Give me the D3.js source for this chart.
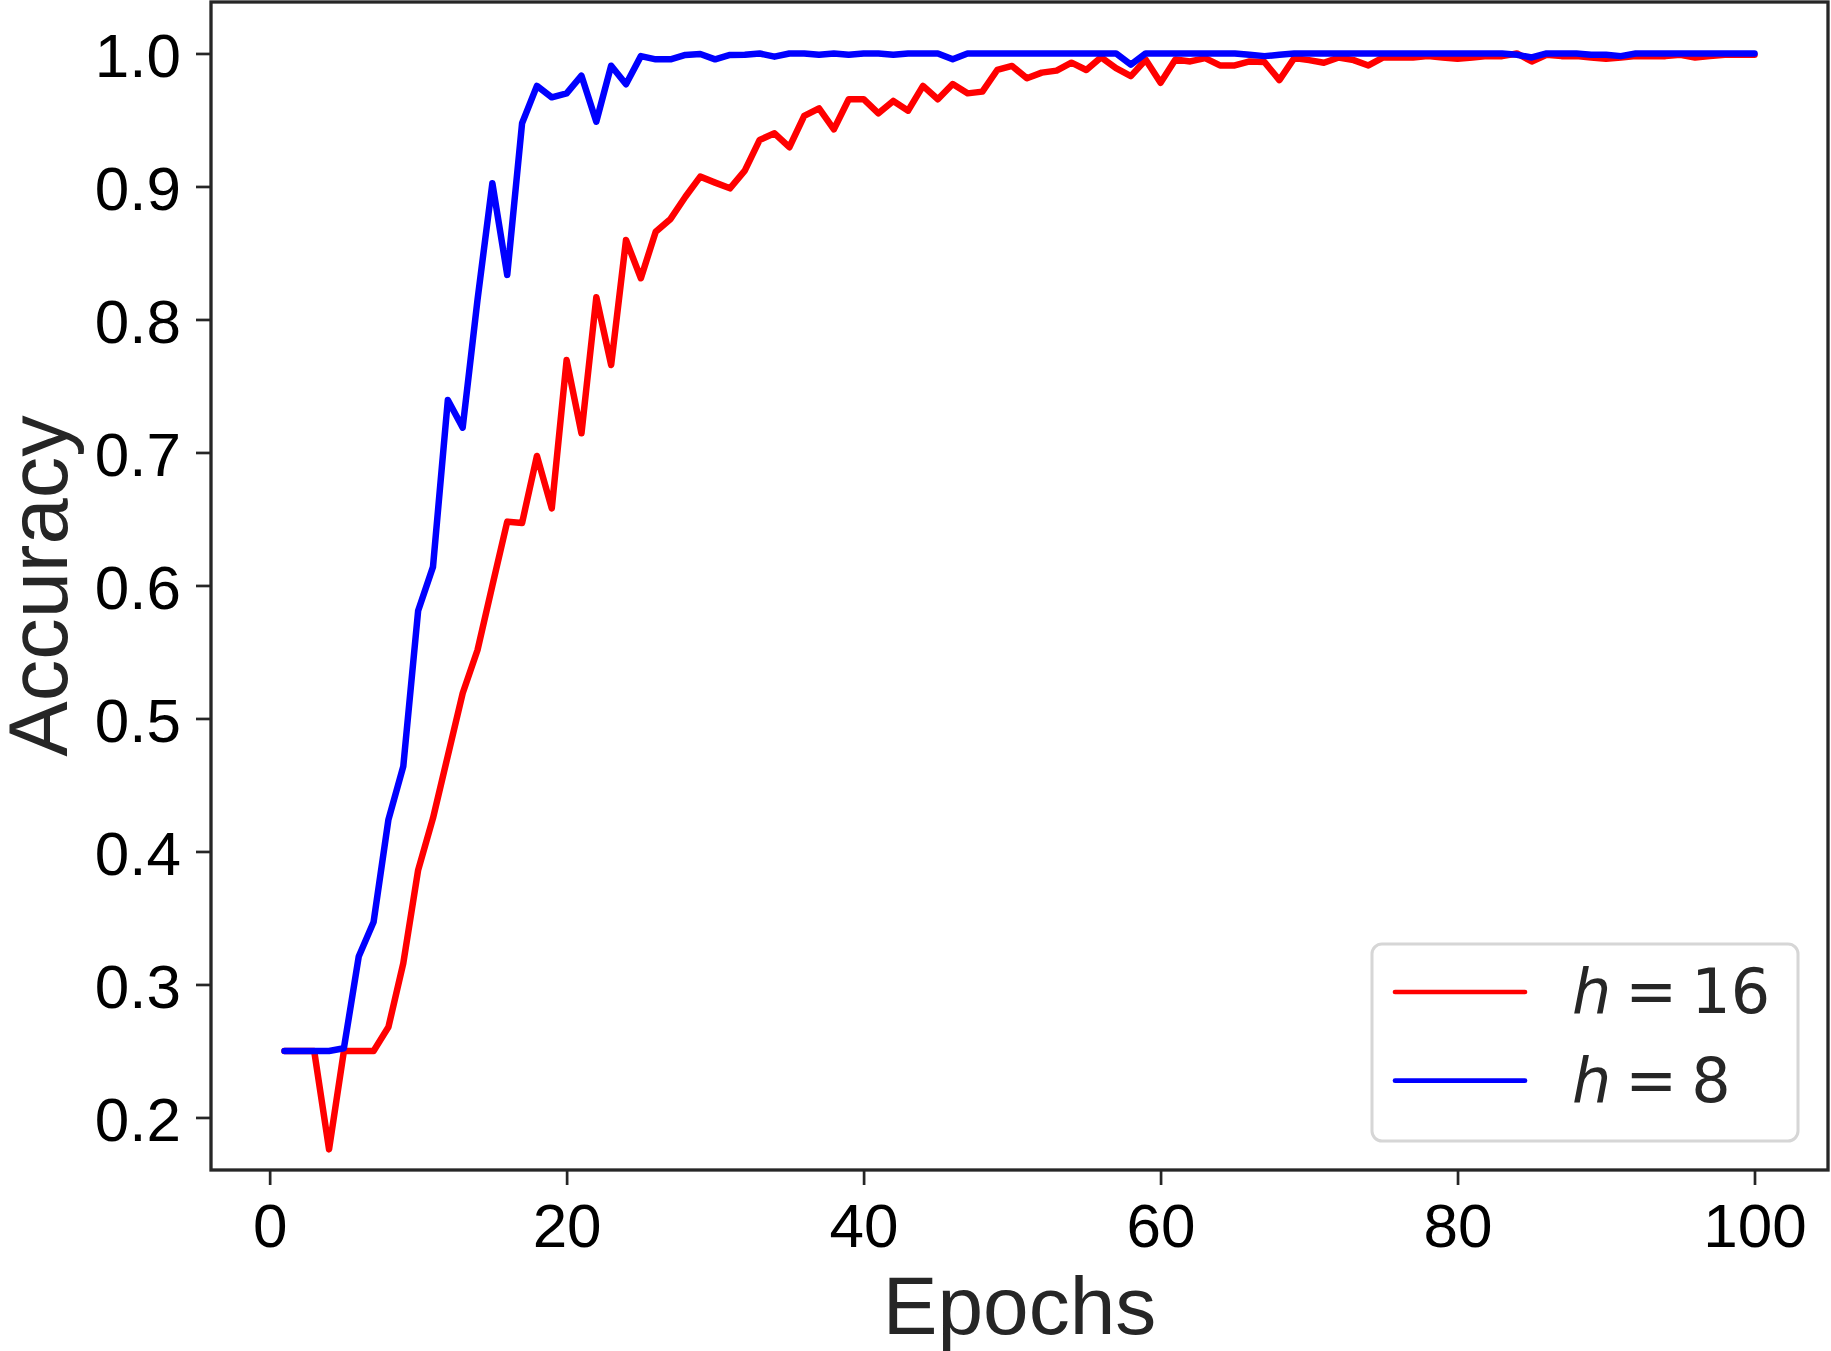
<!DOCTYPE html>
<html>
<head>
<meta charset="utf-8">
<script src="https://cdn.jsdelivr.net/npm/d3@7"></script>
<style>
  html, body { margin: 0; padding: 0; background: #ffffff; }
  svg { display: block; }
</style>
</head>
<body>
<svg id="chart" width="1831" height="1351"></svg>
<script>
// ---- data ----
const epochs = d3.range(1, 101);

const accH16 = [
  0.25, 0.25, 0.25, 0.176, 0.25, 0.25, 0.25, 0.268, 0.316, 0.386,
  0.425, 0.472, 0.519, 0.5515, 0.60, 0.648, 0.647, 0.6974, 0.658, 0.7695,
  0.7144, 0.8167, 0.7658, 0.8598, 0.831, 0.866, 0.8756, 0.8923, 0.9074, 0.9029,
  0.8986, 0.9119, 0.935, 0.94, 0.9295, 0.953, 0.9588, 0.943, 0.9656, 0.9656,
  0.955, 0.9643, 0.957, 0.9756, 0.9656, 0.977, 0.970, 0.9713, 0.9876, 0.9906,
  0.9813, 0.9856, 0.9871, 0.9931, 0.9876, 0.9971, 0.9889, 0.983, 0.9953, 0.978,
  0.9955, 0.994, 0.9965, 0.991, 0.991, 0.994, 0.9935, 0.980, 0.9965, 0.995,
  0.993, 0.997, 0.995, 0.991, 0.997, 0.997, 0.997, 0.998, 0.997, 0.996,
  0.997, 0.998, 0.998, 1.0, 0.994, 0.999, 0.998, 0.998, 0.997, 0.996,
  0.997, 0.998, 0.998, 0.998, 0.999, 0.997, 0.998, 0.999, 0.999, 0.999
];

const accH8 = [
  0.25, 0.25, 0.25, 0.25, 0.252, 0.321, 0.347, 0.424, 0.464, 0.581,
  0.614, 0.7395, 0.7187, 0.815, 0.9024, 0.8335, 0.9475, 0.9756, 0.967, 0.970,
  0.9833, 0.9487, 0.9908, 0.9768, 0.998, 0.9956, 0.9956, 0.9989, 0.9996, 0.9956,
  0.9989, 0.999, 1.0, 0.9976, 1.0, 1.0, 0.999, 1.0, 0.999, 1.0,
  1.0, 0.999, 1.0, 1.0, 1.0, 0.9956, 1.0, 1.0, 1.0, 1.0,
  1.0, 1.0, 1.0, 1.0, 1.0, 1.0, 1.0, 0.9916, 1.0, 1.0,
  1.0, 1.0, 1.0, 1.0, 1.0, 0.999, 0.998, 0.999, 1.0, 1.0,
  1.0, 1.0, 1.0, 1.0, 1.0, 1.0, 1.0, 1.0, 1.0, 1.0,
  1.0, 1.0, 1.0, 0.999, 0.997, 1.0, 1.0, 1.0, 0.999, 0.999,
  0.998, 1.0, 1.0, 1.0, 1.0, 1.0, 1.0, 1.0, 1.0, 1.0
];

const seriesNames = ["16", "8"];
const seriesColors = ["#ff0000", "#0000ff"];
const xTicks = [0, 20, 40, 60, 80, 100];
const yTicks = [0.2, 0.3, 0.4, 0.5, 0.6, 0.7, 0.8, 0.9, 1.0];
const xLabel = "Epochs";
const yLabel = "Accuracy";

// ---- layout ----
const svg = d3.select("#chart");
const L = 211, R = 1828, T = 2, B = 1170;

const x = d3.scaleLinear().domain([-3.95, 104.95]).range([L, R]);
const y = d3.scaleLinear().domain([0.1605, 1.0387]).range([B, T]);

const axisColor = "#262626";

// lines
const line = d3.line().x((d, i) => x(epochs[i])).y(d => y(d));
const series = [accH16, accH8];
series.forEach((s, k) => {
  svg.append("path")
    .datum(s)
    .attr("d", line)
    .attr("fill", "none")
    .attr("stroke", seriesColors[k])
    .attr("stroke-width", 6.5)
    .attr("stroke-linejoin", "round")
    .attr("stroke-linecap", "round");
});

// x axis
const gx = svg.append("g").attr("transform", `translate(0,${B})`)
  .call(d3.axisBottom(x).tickValues(xTicks).tickFormat(d3.format("d")).tickSizeOuter(0).tickSizeInner(15));
gx.select(".domain").remove();
gx.selectAll(".tick line").attr("stroke", axisColor).attr("stroke-width", 2.7);
gx.selectAll(".tick text")
  .attr("y", 77).attr("dy", 0)
  .attr("fill", "#000")
  .style("font-family", "'Liberation Sans', Arial, sans-serif")
  .style("font-size", "62px");

// y axis
const gy = svg.append("g").attr("transform", `translate(${L},0)`)
  .call(d3.axisLeft(y).tickValues(yTicks).tickFormat(d3.format(".1f")).tickSizeOuter(0).tickSizeInner(15));
gy.select(".domain").remove();
gy.selectAll(".tick line").attr("stroke", axisColor).attr("stroke-width", 2.7);
gy.selectAll(".tick text")
  .attr("x", -30).attr("dy", 23)
  .attr("fill", "#000")
  .style("font-family", "'Liberation Sans', Arial, sans-serif")
  .style("font-size", "62px");

// spines
svg.append("rect")
  .attr("x", L).attr("y", T).attr("width", R - L).attr("height", B - T)
  .attr("fill", "none").attr("stroke", axisColor).attr("stroke-width", 3.3);

// axis labels
svg.append("text")
  .attr("x", (L + R) / 2).attr("y", 1334)
  .attr("text-anchor", "middle")
  .attr("fill", axisColor)
  .style("font-family", "'Liberation Sans', Arial, sans-serif")
  .style("font-size", "82px")
  .text(xLabel);

svg.append("text")
  .attr("transform", `translate(67,${(T + B) / 2}) rotate(-90)`)
  .attr("text-anchor", "middle")
  .attr("fill", axisColor)
  .style("font-family", "'Liberation Sans', Arial, sans-serif")
  .style("font-size", "83px")
  .text(yLabel);

// legend
const lg = svg.append("g").attr("transform", "translate(1372,944)");
lg.append("rect")
  .attr("x", 0).attr("y", 0).attr("width", 426).attr("height", 197)
  .attr("rx", 10).attr("ry", 10)
  .attr("fill", "#ffffff").attr("fill-opacity", 0.8)
  .attr("stroke", "#d6d6d6").attr("stroke-width", 3);

seriesNames.forEach((name, k) => {
  const cy = 48 + k * 88.7;
  lg.append("line")
    .attr("x1", 23).attr("x2", 153).attr("y1", cy).attr("y2", cy)
    .attr("stroke", seriesColors[k]).attr("stroke-width", 4.7)
    .attr("stroke-linecap", "round");
  const t = lg.append("text")
    .attr("x", 200).attr("y", cy + 21)
    .attr("fill", axisColor)
    .style("font-family", "'DejaVu Sans', sans-serif")
    .style("font-size", "62px");
  t.append("tspan").style("font-style", "italic").text("h");
  t.append("tspan").attr("dx", 14).text("=");
  t.append("tspan").attr("dx", 14).text(name);
});
</script>
</body>
</html>
